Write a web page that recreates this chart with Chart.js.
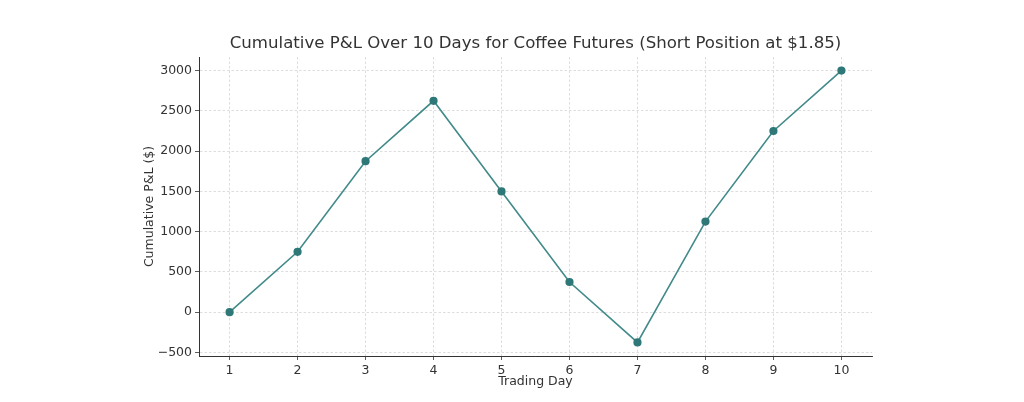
<!DOCTYPE html>
<html><head><meta charset="utf-8">
<script src="https://cdn.jsdelivr.net/npm/chart.js@4"></script>
<style>html,body{margin:0;padding:0;background:#fff}#wrap{width:1024px;height:402px}</style>
</head><body><div id="wrap"><canvas id="c" width="1024" height="402"></canvas></div>
<script>
const days = [1,2,3,4,5,6,7,8,9,10];
const pnl = [0,750,1875,2625,1500,375,-375,1125,2250,3000];
const yTicks = [-500,0,500,1000,1500,2000,2500,3000];
const titleText = 'Cumulative P&L Over 10 Days for Coffee Futures (Short Position at $1.85)';
const xTitle = 'Trading Day';
const yTitle = 'Cumulative P&L ($)';

const FONT = "'DejaVu Sans', sans-serif";
const textPlugin = {
  id: 'texts',
  afterDraw(chart) {
    const ctx = chart.ctx, a = chart.chartArea;
    ctx.save();
    ctx.fillStyle = '#333';
    ctx.textAlign = 'center';
    ctx.textBaseline = 'middle';
    ctx.font = '16.6px ' + FONT;
    ctx.fillText(titleText, (a.left + a.right) / 2, 44);
    ctx.font = '12.5px ' + FONT;
    ctx.fillText(xTitle, (a.left + a.right) / 2, 382);
    ctx.translate(150, (a.top + a.bottom) / 2);
    ctx.rotate(-Math.PI / 2);
    ctx.fillText(yTitle, 0, 0);
    ctx.restore();
  }
};

new Chart(document.getElementById('c'), {
  type: 'line',
  data: {
    datasets: [{
      data: days.map((d, i) => ({x: d, y: pnl[i]})),
      borderColor: '#428a8a',
      backgroundColor: '#2f7878',
      pointBackgroundColor: '#2f7878',
      pointBorderColor: '#2f7878',
      pointRadius: 3.3,
      borderWidth: 1.6,
      tension: 0
    }]
  },
  options: {
    responsive: false,
    animation: false,
    devicePixelRatio: 1,
    layout: {padding: {left: 0, right: 152, top: 57, bottom: 0}},
    plugins: {legend: {display: false}, title: {display: false}, tooltip: {enabled: false}},
    scales: {
      x: {
        type: 'linear',
        min: 0.55, max: 10.45,
        afterBuildTicks(s) { s.ticks = days.map(v => ({value: v})); },
        afterFit(s) { s.height = 46; },
        grid: {color: '#d4d4d4', tickColor: '#333', tickLength: 4, drawTicks: true, tickBorderDash: [], lineWidth: 0.8},
        border: {display: true, color: '#333', width: 1, dash: [2.5, 2]},
        ticks: {color: '#333', font: {family: FONT, size: 12.5}, padding: 3, maxRotation: 0, autoSkip: false}
      },
      y: {
        min: -543.75, max: 3168.75,
        afterBuildTicks(s) { s.ticks = yTicks.map(v => ({value: v})); },
        afterFit(s) { s.width = 199; },
        grid: {color: '#d4d4d4', tickColor: '#333', tickLength: 4, drawTicks: true, tickBorderDash: [], lineWidth: 0.8},
        border: {display: true, color: '#333', width: 1, dash: [2.5, 2]},
        ticks: {color: '#333', font: {family: FONT, size: 12.5}, padding: 3,
          callback: v => String(v).replace('-', '\u2212')}
      }
    }
  },
  plugins: [textPlugin]
});
</script>
</body></html>
